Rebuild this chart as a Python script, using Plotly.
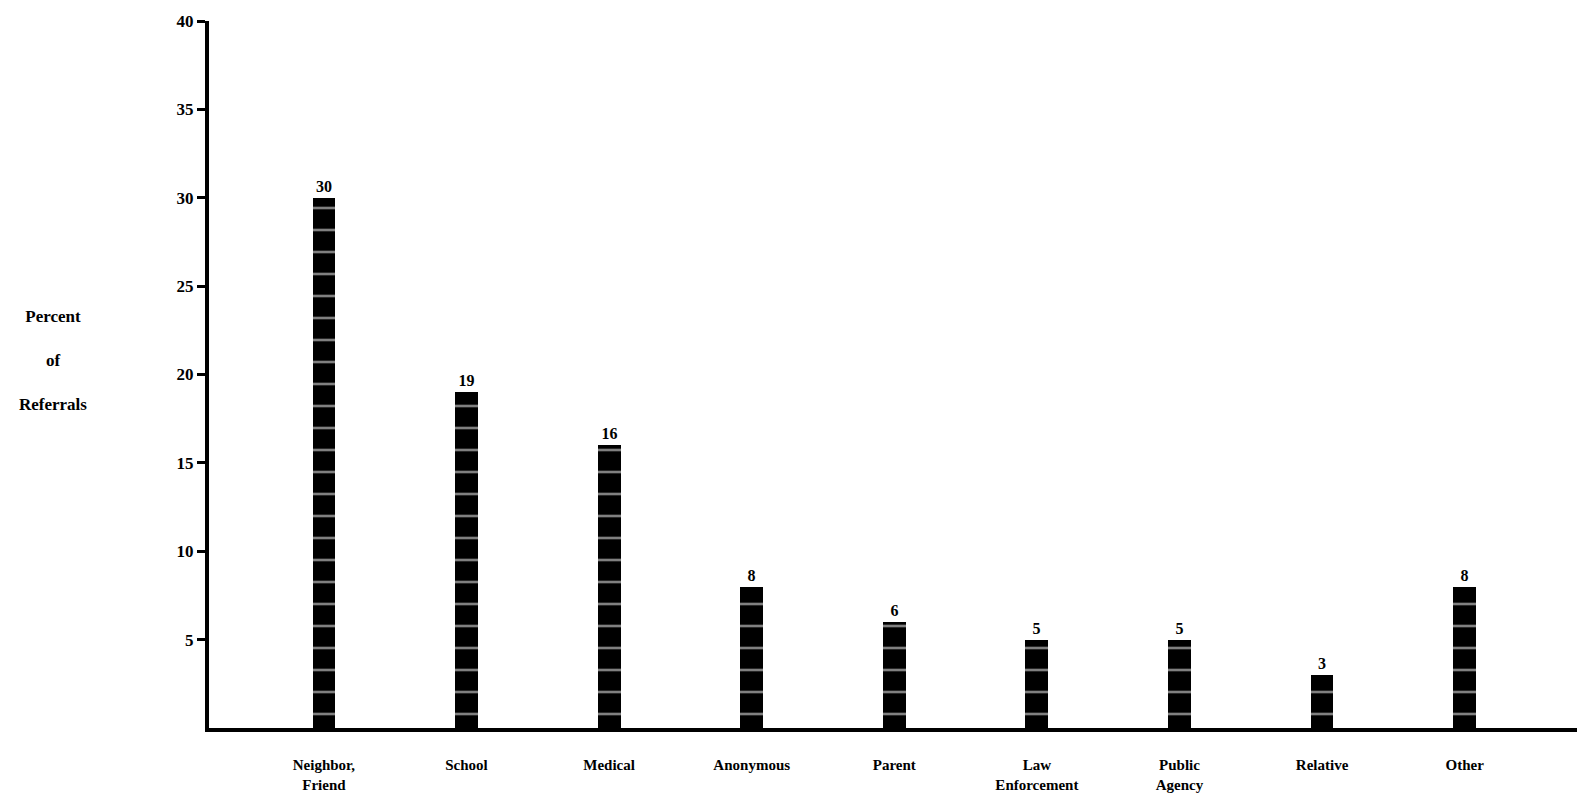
import plotly.graph_objects as go

categories = ["Neighbor,<br>Friend", "School", "Medical", "Anonymous", "Parent",
              "Law<br>Enforcement", "Public<br>Agency", "Relative", "Other"]
values = [30, 19, 16, 8, 6, 5, 5, 3, 8]
value_labels = ["30", "19", "16", "8", "6", "5", "5", "3", "8"]
y_ticks = [5, 10, 15, 20, 25, 30, 35, 40]
y_title_lines = ["Percent", "of", "Referrals"]

FONT = "Liberation Serif"
x_idx = list(range(len(categories)))

fig = go.Figure()
fig.add_trace(go.Bar(
    x=x_idx, y=values, width=0.16,
    marker=dict(color="black",
                line=dict(width=0),
                pattern=dict(shape="-", bgcolor="black", fgcolor="white",
                             size=22, solidity=0.12, fillmode="overlay")),
    text=value_labels, textposition="outside", cliponaxis=False,
    textfont=dict(family=FONT, size=16, color="black", weight="bold"),
    hoverinfo="skip",
))

fig.update_layout(
    width=1585, height=812,
    paper_bgcolor="white", plot_bgcolor="white",
    margin=dict(l=201, r=0, t=13, b=92),
    showlegend=False,
    bargap=0,
    font=dict(family=FONT, color="black"),
    xaxis=dict(range=[-0.806, 8.9], tickmode="array", tickvals=x_idx,
               ticktext=["<b>" + c + "</b>" for c in categories],
               showline=True, linecolor="black", linewidth=4,
               ticks="", showgrid=False, zeroline=False,
               tickfont=dict(family=FONT, size=15, color="black"),
               ticklabelstandoff=20),
    yaxis=dict(range=[0, 40], tickmode="array", tickvals=y_ticks,
               ticktext=["<b>%d</b>" % t for t in y_ticks],
               showline=True, linecolor="black", linewidth=4,
               ticks="outside", ticklen=8, tickwidth=3, tickcolor="black",
               showgrid=False, zeroline=False,
               tickfont=dict(family=FONT, size=17, color="black")),
)

fig.add_annotation(
    text="<b>" + "<br><br>".join(y_title_lines) + "</b>",
    xref="paper", yref="paper", x=-0.113, y=0.52,
    xanchor="center", yanchor="middle", showarrow=False, align="center",
    font=dict(family=FONT, size=17, color="black"),
)

fig.write_html("out.html")
